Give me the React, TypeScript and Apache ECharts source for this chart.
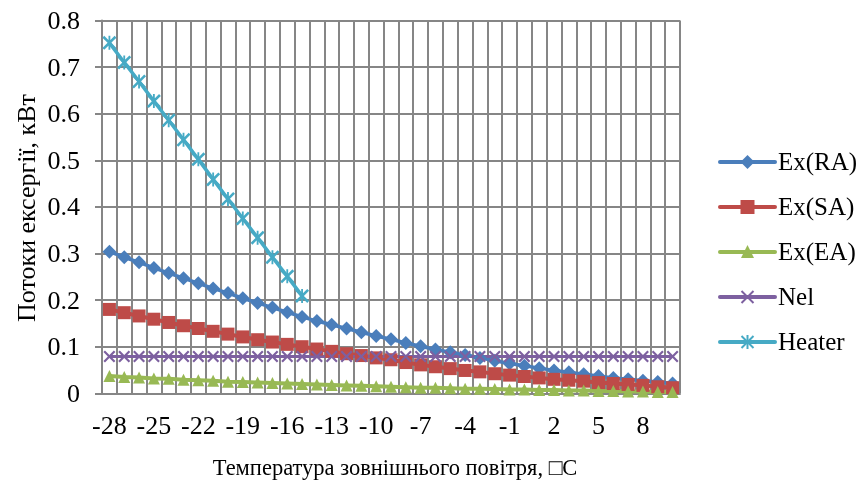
import React, { useEffect, useRef } from "react";
import * as echarts from "echarts";

const categories = [
  "-28", "-27", "-26", "-25", "-24", "-23", "-22", "-21", "-20", "-19",
  "-18", "-17", "-16", "-15", "-14", "-13", "-12", "-11", "-10", "-9",
  "-8", "-7", "-6", "-5", "-4", "-3", "-2", "-1", "0", "1",
  "2", "3", "4", "5", "6", "7", "8", "9", "10",
];

const exRA = [
  0.304, 0.292, 0.281, 0.269, 0.258, 0.247, 0.236, 0.225, 0.215, 0.204,
  0.194, 0.184, 0.174, 0.164, 0.155, 0.147, 0.139, 0.131, 0.123, 0.116,
  0.108, 0.101, 0.094, 0.088, 0.082, 0.076, 0.070, 0.064, 0.059, 0.054,
  0.049, 0.045, 0.041, 0.037, 0.033, 0.030, 0.027, 0.024, 0.021,
];

const exSA = [
  0.180, 0.173, 0.166, 0.159, 0.152, 0.145, 0.139, 0.133, 0.127, 0.121,
  0.115, 0.110, 0.105, 0.100, 0.095, 0.090, 0.085, 0.081, 0.076, 0.072,
  0.066, 0.061, 0.057, 0.053, 0.049, 0.046, 0.042, 0.039, 0.036, 0.033,
  0.030, 0.028, 0.026, 0.023, 0.021, 0.019, 0.017, 0.014, 0.012,
];

const exEA = [
  0.037, 0.035, 0.034, 0.032, 0.031, 0.029, 0.028, 0.027, 0.025, 0.024,
  0.023, 0.022, 0.021, 0.020, 0.019, 0.018, 0.017, 0.016, 0.015, 0.014,
  0.013, 0.012, 0.012, 0.011, 0.010, 0.010, 0.009, 0.008, 0.008, 0.007,
  0.007, 0.006, 0.006, 0.005, 0.005, 0.004, 0.004, 0.003, 0.003,
];

const nel = [
  0.079, 0.079, 0.079, 0.079, 0.079, 0.079, 0.079, 0.079, 0.079, 0.079,
  0.079, 0.079, 0.079, 0.079, 0.079, 0.079, 0.079, 0.079, 0.079, 0.079,
  0.079, 0.079, 0.079, 0.079, 0.079, 0.079, 0.079, 0.079, 0.079, 0.079,
  0.079, 0.079, 0.079, 0.079, 0.079, 0.079, 0.079, 0.079, 0.079,
];

const heater = [
  0.752, 0.710, 0.669, 0.627, 0.586, 0.544, 0.502, 0.459, 0.417, 0.375,
  0.334, 0.292, 0.251, 0.209,
];

const seriesNames = ["Ex(RA)", "Ex(SA)", "Ex(EA)", "Nel", "Heater"];
const seriesColors = ["#4A7EBB", "#BE4B48", "#98B954", "#7D60A0", "#46AAC5"];
const yTicks = { min: 0, max: 0.8, interval: 0.1 };
const xTitle = "Температура зовнішнього повітря, \u25A1C";
const yTitle = "Потоки ексергії, кВт";

const FONT = "Liberation Serif";
const GRID = "#868686";

const X_PATH =
  "path://M0,1.3 L1.3,0 L5,3.7 L8.7,0 L10,1.3 L6.3,5 L10,8.7 L8.7,10 L5,6.3 L1.3,10 L0,8.7 L3.7,5 Z";
const STAR_PATH =
  "path://M0,1.3 L1.3,0 L5,3.7 L8.7,0 L10,1.3 L6.3,5 L10,8.7 L8.7,10 L5,6.3 L1.3,10 L0,8.7 L3.7,5 Z M4.35,0 L5.65,0 L5.65,10 L4.35,10 Z";

export default function App() {
  const ref = useRef<HTMLDivElement>(null);

  useEffect(() => {
    if (!ref.current) return;
    const chart = echarts.init(ref.current, undefined, { renderer: "svg" });

    const mk = (
      idx: number,
      data: number[],
      symbol: string,
      symbolSize: number,
      width: number
    ) => ({
      name: seriesNames[idx],
      type: "line",
      data,
      symbol,
      symbolSize,
      showSymbol: true,
      showAllSymbol: true,
      xAxisIndex: 0,
      lineStyle: { color: seriesColors[idx], width },
      itemStyle: { color: seriesColors[idx], borderWidth: 0 },
      emphasis: { disabled: true },
    });

    const LX0 = 720;
    const LX1 = 775;
    const LCX = (LX0 + LX1) / 2;
    const LY0 = 162;
    const LDY = 45;
    const legend: any[] = [];
    seriesNames.forEach((name, i) => {
      const cy = LY0 + i * LDY;
      const c = seriesColors[i];
      legend.push({
        type: "line",
        shape: { x1: LX0, y1: cy, x2: LX1, y2: cy },
        style: { stroke: c, lineWidth: 4, lineCap: "round" },
      });
      if (i === 0) {
        legend.push({
          type: "polygon",
          shape: { points: [[LCX, cy - 7], [LCX + 7, cy], [LCX, cy + 7], [LCX - 7, cy]] },
          style: { fill: c },
        });
      } else if (i === 1) {
        legend.push({
          type: "rect",
          shape: { x: LCX - 7, y: cy - 7, width: 14, height: 14 },
          style: { fill: c },
        });
      } else if (i === 2) {
        legend.push({
          type: "polygon",
          shape: { points: [[LCX, cy - 7], [LCX + 6.5, cy + 6], [LCX - 6.5, cy + 6]] },
          style: { fill: c },
        });
      } else {
        const s = 6;
        legend.push({
          type: "line",
          shape: { x1: LCX - s, y1: cy - s, x2: LCX + s, y2: cy + s },
          style: { stroke: c, lineWidth: 2 },
        });
        legend.push({
          type: "line",
          shape: { x1: LCX + s, y1: cy - s, x2: LCX - s, y2: cy + s },
          style: { stroke: c, lineWidth: 2 },
        });
        if (i === 4) {
          legend.push({
            type: "line",
            shape: { x1: LCX, y1: cy - s - 1, x2: LCX, y2: cy + s + 1 },
            style: { stroke: c, lineWidth: 2 },
          });
        }
      }
      legend.push({
        type: "text",
        x: LX1 + 3,
        y: cy - 13,
        style: { text: name, fontSize: 25, fontFamily: FONT, fill: "#000" },
      });
    });

    chart.setOption({
      animation: false,
      grid: {
        left: 102,
        right: 185,
        top: 20.5,
        bottom: 98.7,
        containLabel: false,
        outerBoundsMode: "none",
      },
      xAxis: [
        {
          type: "category",
          data: categories,
          boundaryGap: true,
          position: "bottom",
          z: 3,
          axisLine: { show: true, lineStyle: { color: GRID, width: 2 } },
          axisTick: { show: false },
          axisLabel: {
            interval: 2,
            fontSize: 26,
            fontFamily: FONT,
            color: "#000",
            margin: 19,
          },
          splitLine: { show: false },
        },
        {
          type: "value",
          min: 0,
          max: 39,
          interval: 1,
          position: "bottom",
          axisLine: { show: false },
          axisTick: { show: false },
          axisLabel: { show: false },
          splitLine: {
            show: true,
            lineStyle: { color: GRID, width: 2 },
          },
        },
      ],
      yAxis: {
        type: "value",
        min: yTicks.min,
        max: yTicks.max,
        interval: yTicks.interval,
        axisLine: { show: true, lineStyle: { color: GRID, width: 2 } },
        axisTick: {
          show: true,
          length: 7,
          lineStyle: { color: GRID, width: 2 },
        },
        axisLabel: {
          fontSize: 26,
          fontFamily: FONT,
          color: "#000",
          margin: 22,
          formatter: (v: number) => (v === 0 ? "0" : v.toFixed(1)),
        },
        splitLine: { show: true, lineStyle: { color: GRID, width: 2 } },
      },
      graphic: [
        {
          type: "text",
          x: 395,
          y: 467,
          style: {
            text: xTitle,
            fontSize: 22.5,
            fontFamily: FONT,
            fill: "#000",
            align: "center",
            verticalAlign: "middle",
          },
        },
        {
          type: "text",
          x: 26,
          y: 208,
          rotation: Math.PI / 2,
          style: {
            text: yTitle,
            fontSize: 26,
            fontFamily: FONT,
            fill: "#000",
            align: "center",
            verticalAlign: "middle",
          },
        },
        ...legend,
      ],
      series: [
        mk(0, exRA, "diamond", 14, 3.5),
        mk(1, exSA, "rect", 13, 4),
        mk(2, exEA, "triangle", 12, 4),
        mk(3, nel, X_PATH, 12, 3),
        mk(4, heater, STAR_PATH, 14, 3.5),
      ],
    });

    return () => chart.dispose();
  }, []);

  return (
    <div
      ref={ref}
      style={{ position: "fixed", left: 0, top: 0, width: 865, height: 492 }}
    />
  );
}
